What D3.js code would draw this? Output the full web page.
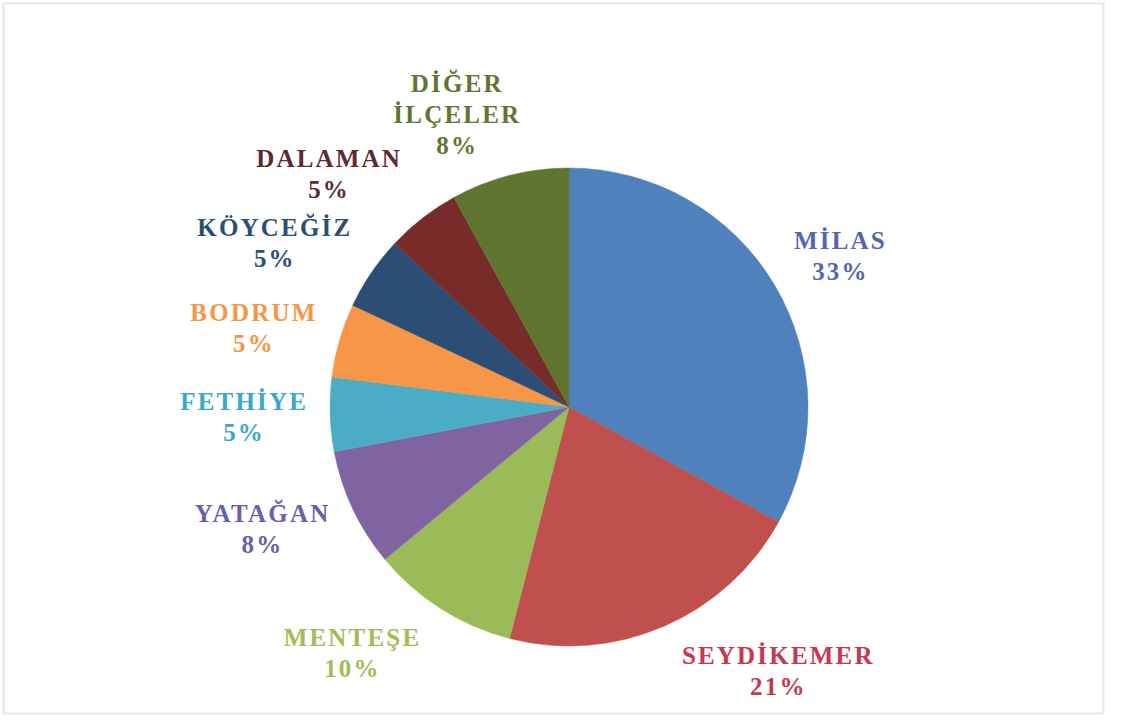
<!DOCTYPE html>
<html><head><meta charset="utf-8">
<script src="https://cdn.jsdelivr.net/npm/d3@7"></script>
<style>
html,body{margin:0;padding:0;background:#fff;}
svg{display:block;}
</style></head>
<body>
<svg id="chart" width="1123" height="720"></svg>
<script>
// ---- data ----
const categories = ["MİLAS","SEYDİKEMER","MENTEŞE","YATAĞAN","FETHİYE","BODRUM","KÖYCEĞİZ","DALAMAN","DİĞER İLÇELER"];
const values = [33,21,10,8,5,5,5,5,8];
const percentLabels = ["33%","21%","10%","8%","5%","5%","5%","5%","8%"];
const sliceColors = ["#4F81BD","#C0504D","#9BBB59","#8064A2","#4BACC6","#F79646","#2C4D75","#772C2A","#5F7530"];
const labelColors = ["#5566b0","#c8364f","#a3bd55","#6a5fa8","#3aa9c6","#f79646","#2c4d75","#5e2a2e","#5f7530"];

// ---- layout (label placement tweaks: angle delta in degrees, radius factor) ----
const labelAngleShift = [1.5,-15,9,3.5,0,-2,-5,-8,-6.5];
const labelRadiusFactor = [1.30,1.41,1.37,1.38,1.36,1.36,1.41,1.40,1.31];

const svg = d3.select("#chart");
const W = 1123, H = 720;
svg.append("rect").attr("x",3.5).attr("y",3.5).attr("width",1100).attr("height",710)
  .attr("fill","#fff").attr("stroke","#e6e6e6").attr("stroke-width",2);

const cx = 569, cy = 407, R = 239;
const g = svg.append("g").attr("transform",`translate(${cx},${cy})`);

const pie = d3.pie().sort(null).value(d=>d.v);
const data = categories.map((c,i)=>({c, v:values[i], p:percentLabels[i], i}));
const arcs = pie(data);
const arc = d3.arc().innerRadius(0).outerRadius(R);

g.selectAll("path.slice").data(arcs).enter().append("path")
  .attr("class","slice")
  .attr("d",arc)
  .attr("fill",d=>sliceColors[d.data.i])
  .attr("stroke",d=>sliceColors[d.data.i])
  .attr("stroke-width",0.5);

const lineH = 31;
arcs.forEach(d=>{
  const i = d.data.i;
  const mid = (d.startAngle+d.endAngle)/2 + labelAngleShift[i]*Math.PI/180;
  const r = R*labelRadiusFactor[i];
  const x = Math.sin(mid)*r, y = -Math.cos(mid)*r;
  const lines = d.data.c.split(" ").concat([d.data.p]);
  const t = g.append("text")
    .attr("text-anchor","middle")
    .attr("font-family","'Liberation Serif','Times New Roman',serif")
    .attr("font-weight","bold")
    .attr("font-size",25)
    .attr("letter-spacing",2.2)
    .attr("fill",labelColors[i]);
  const y0 = y - (lines.length-1)*lineH/2;
  lines.forEach((ln,k)=>{
    t.append("tspan").attr("x",x).attr("y",y0+k*lineH).attr("dy","0.35em").text(ln);
  });
});
</script>
</body></html>
